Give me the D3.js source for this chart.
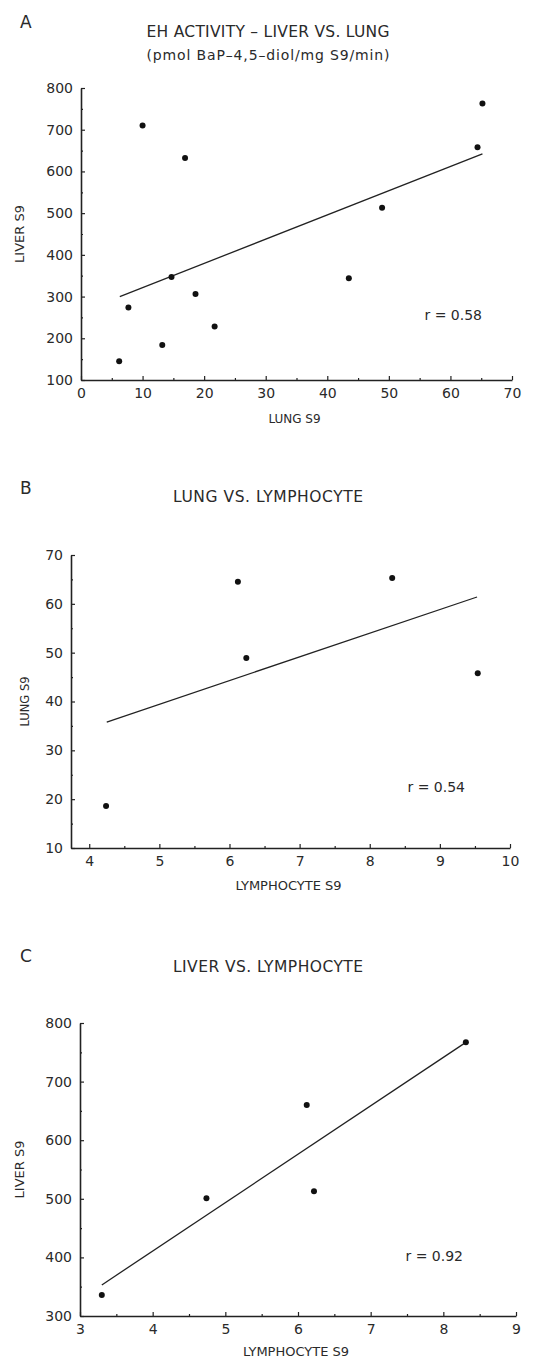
<!DOCTYPE html>
<html>
<head>
<meta charset="utf-8">
<script src="https://cdn.jsdelivr.net/npm/d3@7"></script>
<style>
  body { margin: 0; background: #fff; }
  svg text { font-family: "DejaVu Sans", sans-serif; fill: #2a2a2a; }
  .domain { stroke: #222; stroke-width: 1.6; }
  .tick line { stroke: #222; stroke-width: 1.2; }
  .tick text { font-family: "DejaVu Sans", sans-serif; font-size: 14px; fill: #2a2a2a; }
</style>
</head>
<body>
<svg id="chart" width="547" height="1360"></svg>
<script>
// ---- data ----
// A: liver vs lung
const lungA  = [10.0, 16.9, 65.2, 64.4, 7.7, 14.7, 18.6, 21.7, 43.5, 48.9, 6.2, 13.2];
const liverA = [710, 632, 763, 658, 274, 347, 306, 228, 344, 513, 145, 184];
const fitA = [[6.3, 300], [65.2, 642]];

// B: lung vs lymphocyte
const lymphB = [6.12, 8.32, 6.24, 9.54, 4.24];
const lungB  = [64.5, 65.3, 48.9, 45.8, 18.6];
const fitB = [[4.25, 35.8], [9.53, 61.4]];

// C: liver vs lymphocyte
const lymphC = [6.12, 8.31, 4.74, 6.22, 3.30];
const liverC = [660, 767, 501, 513, 336];
const fitC = [[3.30, 353], [8.31, 767]];

const panels = [
  { letter: 'A', title: 'EH ACTIVITY \u2013 LIVER VS. LUNG', sub: '(pmol BaP\u20134,5\u2013diol/mg S9/min)',
    xs: lungA, ys: liverA, fit: fitA, r: 'r = 0.58',
    xDom: [0, 70], xRange: [81, 512], xMajor: d3.range(0, 71, 10), xMinor: d3.range(5, 70, 10),
    yDom: [100, 800], yRange: [380, 88], yMajor: d3.range(100, 801, 100), yMinor: d3.range(150, 800, 100),
    xLabel: 'LUNG S9', yLabel: 'LIVER S9', xLabelSize: 12, yLabelSize: 13, titleW: 243,
    letterY: 28, titleY: 37, subY: 60, rPos: [482, 320], xLabelY: 423, yLabelX: 24 },
  { letter: 'B', title: 'LUNG VS. LYMPHOCYTE', sub: null,
    xs: lymphB, ys: lungB, fit: fitB, r: 'r = 0.54',
    xDom: [3.74, 10], xRange: [71, 510], xMajor: d3.range(4, 11, 1), xMinor: d3.range(4.5, 10, 1),
    yDom: [10, 70], yRange: [848, 555], yMajor: d3.range(10, 71, 10), yMinor: d3.range(15, 70, 10),
    xLabel: 'LYMPHOCYTE S9', yLabel: 'LUNG S9', xLabelSize: 13, yLabelSize: 11.5, titleW: 190,
    letterY: 494, titleY: 502, subY: null, rPos: [465, 792], xLabelY: 890, yLabelX: 29 },
  { letter: 'C', title: 'LIVER VS. LYMPHOCYTE', sub: null,
    xs: lymphC, ys: liverC, fit: fitC, r: 'r = 0.92',
    xDom: [3, 9], xRange: [80, 516], xMajor: d3.range(3, 10, 1), xMinor: d3.range(3.5, 9, 1),
    yDom: [300, 800], yRange: [1316, 1023], yMajor: d3.range(300, 801, 100), yMinor: d3.range(350, 800, 100),
    xLabel: 'LYMPHOCYTE S9', yLabel: 'LIVER S9', xLabelSize: 13, yLabelSize: 13, titleW: 190,
    letterY: 962, titleY: 972, subY: null, rPos: [463, 1261], xLabelY: 1356, yLabelX: 24 }
];

const svg = d3.select('#chart');

panels.forEach(p => {
  const x = d3.scaleLinear().domain(p.xDom).range(p.xRange);
  const y = d3.scaleLinear().domain(p.yDom).range(p.yRange);
  const g = svg.append('g');
  const x0 = p.xRange[0], y0 = p.yRange[0];
  const midX = (p.xRange[0] + p.xRange[1]) / 2;

  // minor ticks first (no labels)
  g.append('g').attr('transform', `translate(0,${y0})`)
    .call(d3.axisBottom(x).tickValues(p.xMinor).tickSizeInner(-2).tickSizeOuter(0).tickFormat(''))
    .call(a => a.select('.domain').remove());
  g.append('g').attr('transform', `translate(${x0},0)`)
    .call(d3.axisLeft(y).tickValues(p.yMinor).tickSizeInner(-2).tickSizeOuter(0).tickFormat(''))
    .call(a => a.select('.domain').remove());

  // major axes, ticks pointing inward
  g.append('g').attr('transform', `translate(0,${y0})`)
    .call(d3.axisBottom(x).tickValues(p.xMajor).tickSizeInner(-4).tickSizeOuter(0).tickPadding(8).tickFormat(d3.format('d')));
  g.append('g').attr('transform', `translate(${x0},0)`)
    .call(d3.axisLeft(y).tickValues(p.yMajor).tickSizeInner(-4).tickSizeOuter(0).tickPadding(8).tickFormat(d3.format('d')));

  // regression line
  g.append('line')
    .attr('x1', x(p.fit[0][0])).attr('y1', y(p.fit[0][1]))
    .attr('x2', x(p.fit[1][0])).attr('y2', y(p.fit[1][1]))
    .attr('stroke', '#222').attr('stroke-width', 1.3);

  // points
  g.selectAll('circle').data(p.xs).join('circle')
    .attr('cx', (d, i) => x(d)).attr('cy', (d, i) => y(p.ys[i]))
    .attr('r', 3).attr('fill', '#111');

  // texts
  g.append('text').attr('x', 20).attr('y', p.letterY).attr('font-size', 17).text(p.letter);
  g.append('text').attr('x', 268).attr('y', p.titleY).attr('text-anchor', 'middle')
    .attr('font-size', 15.5).attr('textLength', p.titleW).text(p.title);
  if (p.sub) {
    g.append('text').attr('x', 268).attr('y', p.subY).attr('text-anchor', 'middle')
      .attr('font-size', 14).attr('textLength', 243).text(p.sub);
  }
  g.append('text').attr('x', p.rPos[0]).attr('y', p.rPos[1]).attr('text-anchor', 'end')
    .attr('font-size', 14).text(p.r);
  g.append('text').attr('x', midX - 2).attr('y', p.xLabelY).attr('text-anchor', 'middle')
    .attr('font-size', p.xLabelSize).text(p.xLabel);
  g.append('text')
    .attr('transform', `translate(${p.yLabelX},${(p.yRange[0] + p.yRange[1]) / 2}) rotate(-90)`)
    .attr('text-anchor', 'middle').attr('font-size', p.yLabelSize).text(p.yLabel);
});
</script>
</body>
</html>
